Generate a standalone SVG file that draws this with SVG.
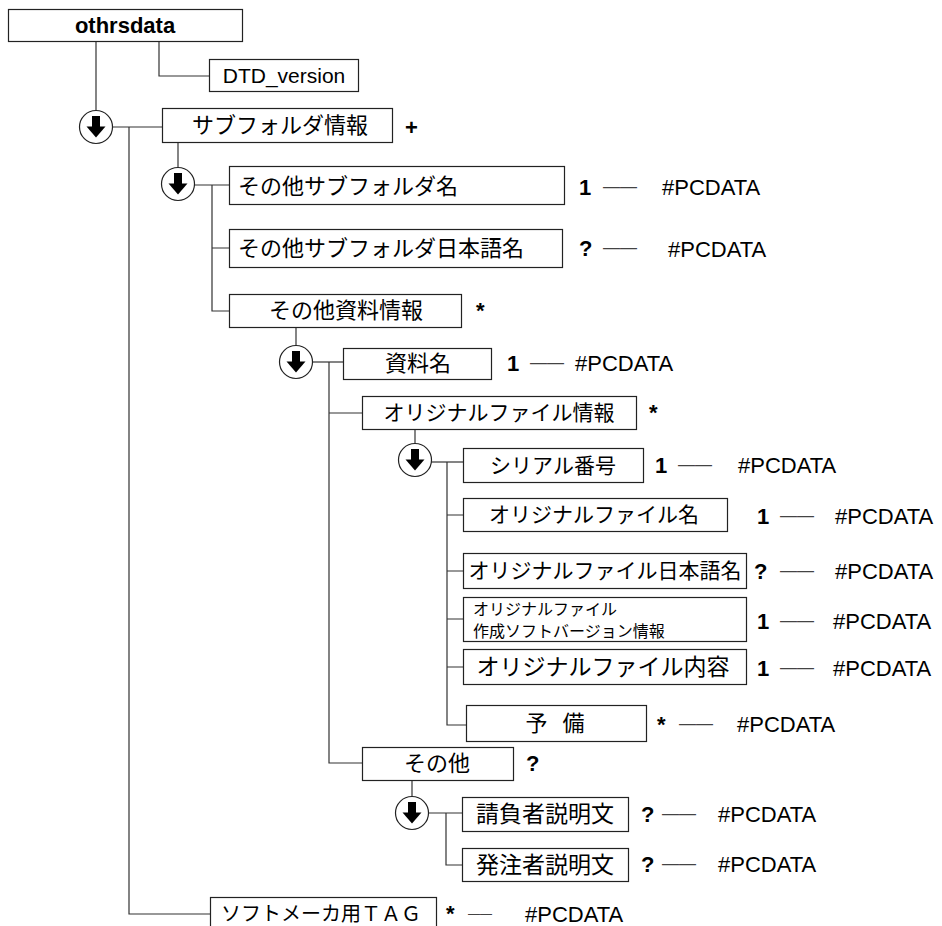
<svg xmlns="http://www.w3.org/2000/svg" xmlns:xlink="http://www.w3.org/1999/xlink" width="942" height="926" viewBox="0 0 942 926">
<style>
.box{fill:#fff;stroke:#222;stroke-width:1.2}
.ln{fill:none;stroke:#333;stroke-width:1.2}
.jp{font-family:"Noto Sans CJK JP","Liberation Sans",sans-serif;font-size:22px;fill:#000}
.lt{font-family:"Liberation Sans",Arial,sans-serif;font-size:22px;fill:#000}
.b{font-weight:bold}
.dash{font-family:"Liberation Sans",Arial,sans-serif;font-size:17px;fill:#444}
.c{text-anchor:middle}
</style>
<defs>
<g id="seq">
<circle cx="0" cy="0" r="16.5" fill="#fff" stroke="#222" stroke-width="1.2"/>
<rect x="-4" y="-11" width="8" height="11" fill="#000"/>
<polygon points="-9.5,-0.5 9.5,-0.5 0,10.5" fill="#000"/>
</g>
</defs>
<rect width="942" height="926" fill="#fff"/>
<g id="connectors">
<path class="ln" d="M96,42V111"/>
<path class="ln" d="M159,42V76H209"/>
<path class="ln" d="M112,127H162"/>
<path class="ln" d="M129,127V914H210"/>
<path class="ln" d="M178,142V168"/>
<path class="ln" d="M194,185H229"/>
<path class="ln" d="M212,185V311H229M212,248H229"/>
<path class="ln" d="M296,327V346"/>
<path class="ln" d="M312,362H343"/>
<path class="ln" d="M329,362V763H362M329,413H362"/>
<path class="ln" d="M415,429V444"/>
<path class="ln" d="M431,462H463"/>
<path class="ln" d="M447,462V725H466M447,515H463M447,571H463M447,619H463M447,667H463"/>
<path class="ln" d="M412,780V797"/>
<path class="ln" d="M428,813H462"/>
<path class="ln" d="M446,813V865H462"/>
<use xlink:href="#seq" x="96" y="127"/>
<use xlink:href="#seq" x="178" y="184"/>
<use xlink:href="#seq" x="296" y="362"/>
<use xlink:href="#seq" x="415" y="460"/>
<use xlink:href="#seq" x="412" y="813"/>
</g>
<g id="othrsdata"><rect class="box" x="8.5" y="9.5" width="234" height="32"/><text class="lt b c" x="125" y="33" font-size="21">othrsdata</text></g>
<g id="dtd"><rect class="box" x="209.5" y="59.5" width="149" height="32"/><text class="lt c" x="284" y="83" style="font-size:21px">DTD_version</text></g>
<g id="subfolder"><rect class="box" x="162.5" y="108.5" width="230" height="34"/><text class="jp c" x="280" y="133">サブフォルダ情報</text><text class="lt b" x="405" y="135">+</text></g>
<g id="subname"><rect class="box" x="229.5" y="166.5" width="335" height="38"/><text class="jp" x="238" y="194">その他サブフォルダ名</text><text class="lt b" x="579" y="195">1</text><text class="dash" x="603" y="192">——</text><text class="lt" x="662" y="195">#PCDATA</text></g>
<g id="subjname"><rect class="box" x="229.5" y="229.5" width="333" height="38"/><text class="jp" x="238" y="256">その他サブフォルダ日本語名</text><text class="lt b" x="579" y="256">?</text><text class="dash" x="603" y="253">——</text><text class="lt" x="668" y="257">#PCDATA</text></g>
<g id="docinfo"><rect class="box" x="229.5" y="294.5" width="232" height="33"/><text class="jp c" x="346" y="318">その他資料情報</text><text class="lt b" x="476" y="318">*</text></g>
<g id="docname"><rect class="box" x="343.5" y="348.5" width="148" height="31"/><text class="jp c" x="418" y="371">資料名</text><text class="lt b" x="507" y="371">1</text><text class="dash" x="530" y="368">——</text><text class="lt" x="575" y="371">#PCDATA</text></g>
<g id="orginfo"><rect class="box" x="362.5" y="396.5" width="274" height="33"/><text class="jp c" x="499" y="420" style="font-size:21px">オリジナルファイル情報</text><text class="lt b" x="649" y="420">*</text></g>
<g id="serial"><rect class="box" x="463.5" y="448.5" width="180" height="34"/><text class="jp c" x="553" y="473" style="font-size:21px">シリアル番号</text><text class="lt b" x="655" y="473">1</text><text class="dash" x="678" y="470">——</text><text class="lt" x="738" y="473">#PCDATA</text></g>
<g id="orgname"><rect class="box" x="463.5" y="498.5" width="264" height="33"/><text class="jp c" x="594" y="522" style="font-size:21px">オリジナルファイル名</text><text class="lt b" x="757" y="524">1</text><text class="dash" x="780" y="521">——</text><text class="lt" x="835" y="524">#PCDATA</text></g>
<g id="orgjname"><rect class="box" x="463.5" y="553.5" width="283" height="35"/><text class="jp c" x="605" y="578" style="font-size:21px">オリジナルファイル日本語名</text><text class="lt b" x="754" y="579">?</text><text class="dash" x="780" y="576">——</text><text class="lt" x="835" y="579">#PCDATA</text></g>
<g id="orgsoft"><rect class="box" x="463.5" y="597.5" width="283" height="44"/><text class="jp" x="473" y="615" style="font-size:16px">オリジナルファイル</text><text class="jp" x="473" y="637" style="font-size:16px">作成ソフトバージョン情報</text><text class="lt b" x="757" y="629">1</text><text class="dash" x="780" y="626">——</text><text class="lt" x="833" y="629">#PCDATA</text></g>
<g id="orgcontent"><rect class="box" x="463.5" y="649.5" width="283" height="35"/><text class="jp c" x="603" y="675" style="font-size:23px">オリジナルファイル内容</text><text class="lt b" x="757" y="676">1</text><text class="dash" x="780" y="673">——</text><text class="lt" x="833" y="676">#PCDATA</text></g>
<g id="yobi"><rect class="box" x="466.5" y="705.5" width="180" height="36"/><text class="jp c" x="555" y="731" xml:space="preserve" word-spacing="10">予 備</text><text class="lt b" x="657" y="732">*</text><text class="dash" x="679" y="729">——</text><text class="lt" x="737" y="732">#PCDATA</text></g>
<g id="other"><rect class="box" x="362.5" y="747.5" width="151" height="33"/><text class="jp c" x="437" y="771">その他</text><text class="lt b" x="526" y="771">?</text></g>
<g id="contractor"><rect class="box" x="462.5" y="797.5" width="166" height="34"/><text class="jp c" x="545" y="822" style="font-size:23px">請負者説明文</text><text class="lt b" x="641" y="822">?</text><text class="dash" x="662" y="819">——</text><text class="lt" x="718" y="822">#PCDATA</text></g>
<g id="orderer"><rect class="box" x="462.5" y="848.5" width="166" height="33"/><text class="jp c" x="545" y="873" style="font-size:23px">発注者説明文</text><text class="lt b" x="641" y="872">?</text><text class="dash" x="662" y="869">——</text><text class="lt" x="718" y="872">#PCDATA</text></g>
<g id="softtag"><rect class="box" x="210.5" y="897.5" width="226" height="40"/><text class="jp c" x="321" y="921" style="font-size:20px">ソフトメーカ用ＴＡＧ</text><text class="lt b" x="446" y="921">*</text><text class="dash" x="468" y="918" style="font-size:12px">——</text><text class="lt" x="525" y="922">#PCDATA</text></g>
</svg>
